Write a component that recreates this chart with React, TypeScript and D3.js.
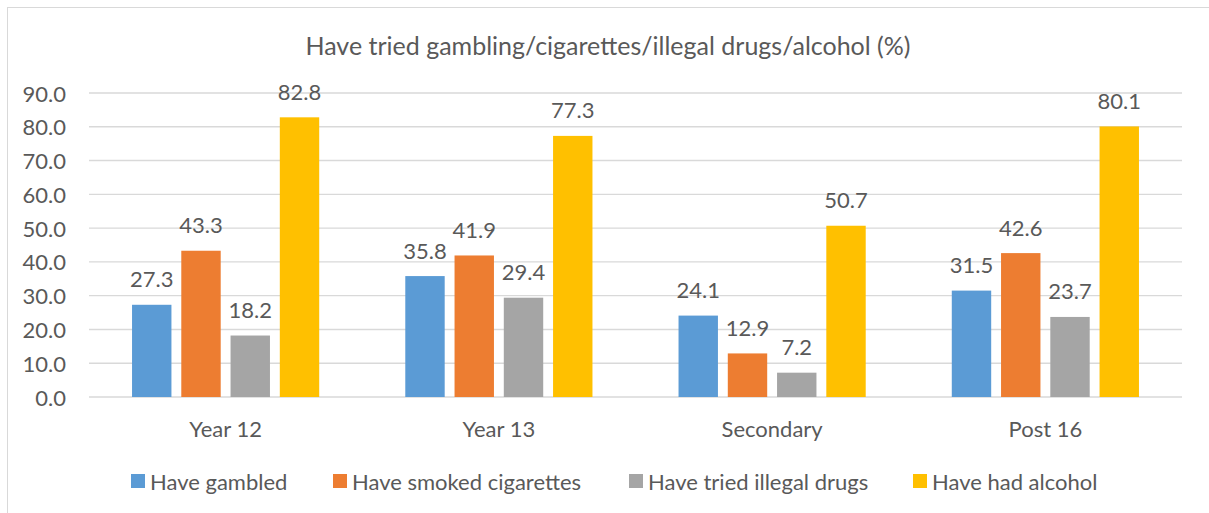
import React from "react";
import * as d3 from "d3";

const categories = ["Year 12", "Year 13", "Secondary", "Post 16"];
const seriesNames = ["Have gambled", "Have smoked cigarettes", "Have tried illegal drugs", "Have had alcohol"];
const gambled = [27.3, 35.8, 24.1, 31.5];
const smoked = [43.3, 41.9, 12.9, 42.6];
const drugs = [18.2, 29.4, 7.2, 23.7];
const alcohol = [82.8, 77.3, 50.7, 80.1];
const yTicks = [0, 10, 20, 30, 40, 50, 60, 70, 80, 90];
const colors = ["#5B9BD5", "#ED7D31", "#A5A5A5", "#FFC000"];
const title = "Have tried gambling/cigarettes/illegal drugs/alcohol (%)";

const W = 1209;
const H = 513;
const FONT = "Lato, 'Open Sans', sans-serif";
const TXT = "#595959";

export default function App() {
  const values = [gambled, smoked, drugs, alcohol];
  const x0 = d3.scaleBand<string>().domain(categories).range([89, 1182]).paddingInner(0.315).paddingOuter(0.1575);
  const x1 = d3.scaleBand<string>().domain(seriesNames).range([0, x0.bandwidth()]).paddingInner(0.2);
  const y = d3.scaleLinear().domain([0, 90]).range([397, 93]);
  const fmt = d3.format(".1f");

  const legendX = [131, 333, 629, 913];

  return (
    <svg width={W} height={H} style={{ position: "absolute", left: 0, top: 0, background: "#fff" }} fontFamily={FONT}>
      <rect x={0} y={0} width={W} height={H} fill="#fff" />
      <rect x={7.5} y={7.5} width={W + 20} height={H + 20} fill="none" stroke="#D9D9D9" strokeWidth={1} />
      <text x={608} y={45} textAnchor="middle" dominantBaseline="central" fontSize={25} fill={TXT}>{title}</text>
      {yTicks.map((t) => (
        <g key={t}>
          <line x1={89} x2={1182} y1={y(t)} y2={y(t)} stroke="#D9D9D9" strokeWidth={1.4} />
          <text x={66} y={y(t)} textAnchor="end" dominantBaseline="central" fontSize={22} fill={TXT}>{fmt(t)}</text>
        </g>
      ))}
      {categories.map((c, ci) => (
        <g key={c} transform={`translate(${x0(c)},0)`}>
          {seriesNames.map((s, si) => {
            const v = values[si][ci];
            const bx = x1(s)!;
            return (
              <g key={s}>
                <rect x={bx} y={y(v)} width={x1.bandwidth()} height={y(0) - y(v)} fill={colors[si]} />
                <text x={bx + x1.bandwidth() / 2} y={y(v) - 26} textAnchor="middle" dominantBaseline="central" fontSize={22} fill={TXT}>{fmt(v)}</text>
              </g>
            );
          })}
          <text x={x0.bandwidth() / 2} y={428} textAnchor="middle" dominantBaseline="central" fontSize={22} fill={TXT}>{c}</text>
        </g>
      ))}
      {seriesNames.map((s, si) => (
        <g key={s} transform={`translate(${legendX[si]},474)`}>
          <rect x={0} y={0} width={14} height={14} fill={colors[si]} />
          <text x={19} y={7} dominantBaseline="central" fontSize={22} fill={TXT}>{s}</text>
        </g>
      ))}
    </svg>
  );
}
